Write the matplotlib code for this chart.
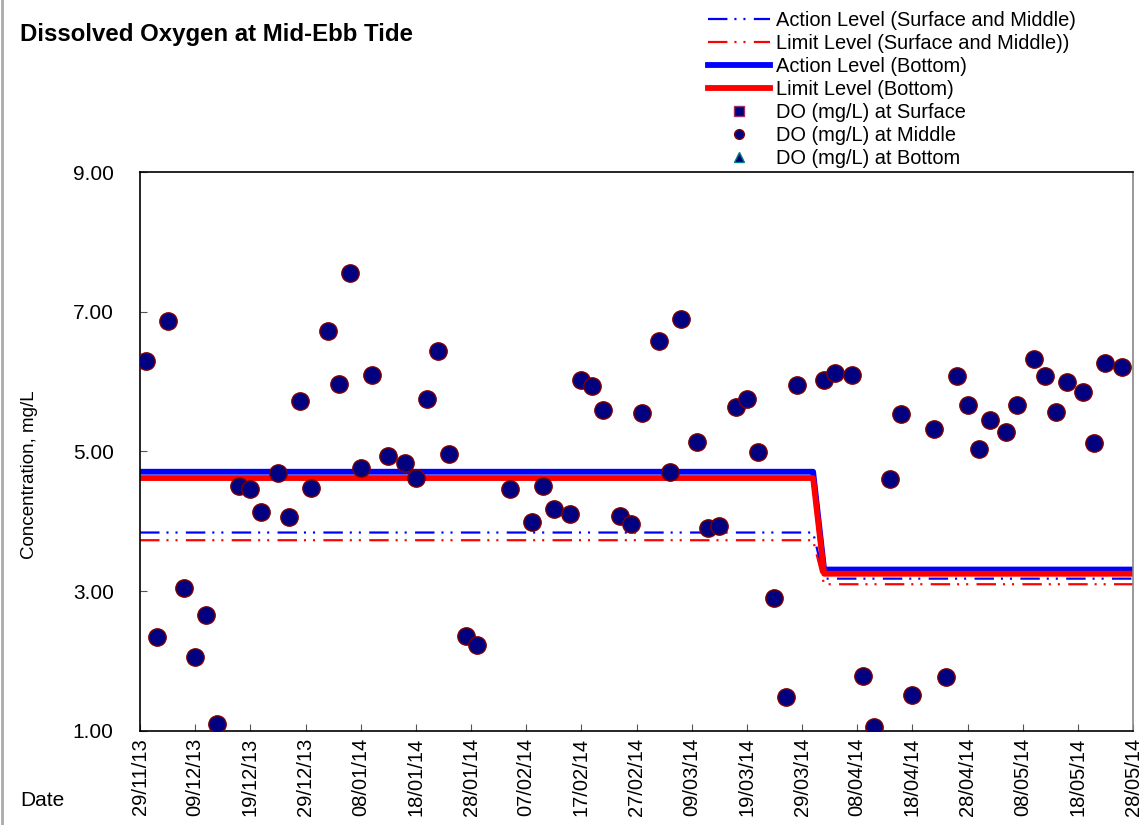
import pandas as pd
import matplotlib.pyplot as plt
import matplotlib.dates as mdates

plt.rcParams['font.family'] = ['Liberation Sans', 'DejaVu Sans']
plt.rcParams['lines.scale_dashes'] = False

# sampling days counted from 29/11/2013
start = pd.Timestamp('2013-11-29')
sample_days = [1, 3, 5, 8, 10, 12, 14, 18, 20, 22, 25, 27, 29, 31, 34, 36, 38, 40, 42, 45,
               48, 50, 52, 54, 56, 59, 61, 67, 71, 73, 75, 78, 80, 82, 84, 87, 89, 91, 94, 96,
               98, 101, 103, 105, 108, 110, 112, 115, 117, 119, 124, 126, 129, 131, 133, 136,
               138, 140, 144, 146, 148, 150, 152, 154, 157, 159, 162, 164, 166, 168, 171, 173,
               175, 178]
do_middle = [6.29, 2.34, 6.87, 3.05, 2.06, 2.66, 1.10, 4.50, 4.46, 4.13, 4.69, 4.06, 5.72, 4.48,
             6.72, 5.96, 7.55, 4.76, 6.09, 4.94, 4.83, 4.62, 5.75, 6.44, 4.97, 2.36, 2.23, 4.46,
             3.99, 4.51, 4.18, 4.10, 6.02, 5.94, 5.60, 4.07, 3.96, 5.55, 6.58, 4.70, 6.89, 5.14,
             3.90, 3.94, 5.63, 5.75, 4.99, 2.91, 1.48, 5.95, 6.02, 6.13, 6.10, 1.79, 1.05, 4.61,
             5.54, 1.51, 5.32, 1.77, 6.08, 5.66, 5.03, 5.45, 5.28, 5.67, 6.32, 6.08, 5.57, 6.00,
             5.85, 5.12, 6.27, 6.21]
# surface and bottom readings sit under the middle circles
do_surface = list(do_middle)
do_bottom = list(do_middle)

level_dates = pd.to_datetime(['2013-11-29', '2014-03-31', '2014-04-02', '2014-05-28'])
action_sm = [3.84, 3.84, 3.18, 3.18]
limit_sm = [3.73, 3.73, 3.10, 3.10]
action_bot = [4.71, 4.71, 3.31, 3.31]
limit_bot = [4.62, 4.62, 3.25, 3.25]

dates = start + pd.to_timedelta(sample_days, unit='D')

fig = plt.figure(figsize=(11.48, 8.25), dpi=100)
ax = fig.add_axes([0.122, 0.114, 0.865, 0.6775])

dd = (14, 5, 1.5, 5, 1.5, 6)
ax.plot(level_dates, action_sm, color='blue', lw=1.6, dashes=dd, label='Action Level (Surface and Middle)')
ax.plot(level_dates, limit_sm, color='red', lw=1.6, dashes=dd, label='Limit Level (Surface and Middle))')
ax.plot(level_dates, action_bot, color='blue', lw=4.2, label='Action Level (Bottom)')
ax.plot(level_dates, limit_bot, color='red', lw=4.2, label='Limit Level (Bottom)')

ax.plot(dates, do_surface, ls='none', marker='s', ms=8, mfc='#000080', mec='#993366', mew=1,
        label='DO (mg/L) at Surface', zorder=3)
ax.plot(dates, do_middle, ls='none', marker='o', ms=12.5, mfc='#000080', mec='#800000', mew=1,
        label='DO (mg/L) at Middle', zorder=5)
ax.plot(dates, do_bottom, ls='none', marker='^', ms=8, mfc='#000080', mec='#008080', mew=1,
        label='DO (mg/L) at Bottom', zorder=4)

ax.set_xlim(pd.Timestamp('2013-11-29'), pd.Timestamp('2014-05-28'))
ax.set_ylim(1, 9)
ax.set_yticks([1, 3, 5, 7, 9])
ax.yaxis.set_major_formatter(plt.FormatStrFormatter('%.2f'))
ax.set_xticks(pd.date_range('2013-11-29', '2014-05-28', freq='10D'))
ax.xaxis.set_major_formatter(mdates.DateFormatter('%d/%m/%y'))
ax.tick_params(direction='in', length=5, color='#555555')
ax.tick_params(axis='y', labelsize=15, pad=19)
ax.tick_params(axis='x', labelsize=14.5, labelrotation=90, pad=5)
for s in ax.spines.values():
    s.set_linewidth(1.2)
ax.spines['right'].set_color('#888888')

fig.text(30 / 1148, 1 - 475 / 825, 'Concentration, mg/L', fontsize=13.5, rotation=90,
         ha='center', va='center')
fig.text(20 / 1148, 1 - 801 / 825, 'Date', fontsize=15, va='center')
fig.text(20 / 1148, 1 - 35 / 825, 'Dissolved Oxygen at Mid-Ebb Tide', fontsize=17.3,
         fontweight='bold', va='center')

# leftmost grey border of the chart frame
fig.add_artist(plt.Line2D([0.002, 0.002], [0, 1], color='#aaaaaa', lw=2))

h, l = ax.get_legend_handles_labels()
leg = fig.legend(h, l, loc='upper left', bbox_to_anchor=(708 / 1148, 1 - 11 / 825), frameon=False,
                 fontsize=14.4, labelspacing=0.2, handlelength=3.1, handletextpad=0.3,
                 borderaxespad=0, borderpad=0)
for hd in leg.legend_handles:
    hd.set_markersize(7)

plt.savefig('out.png', dpi=100)
